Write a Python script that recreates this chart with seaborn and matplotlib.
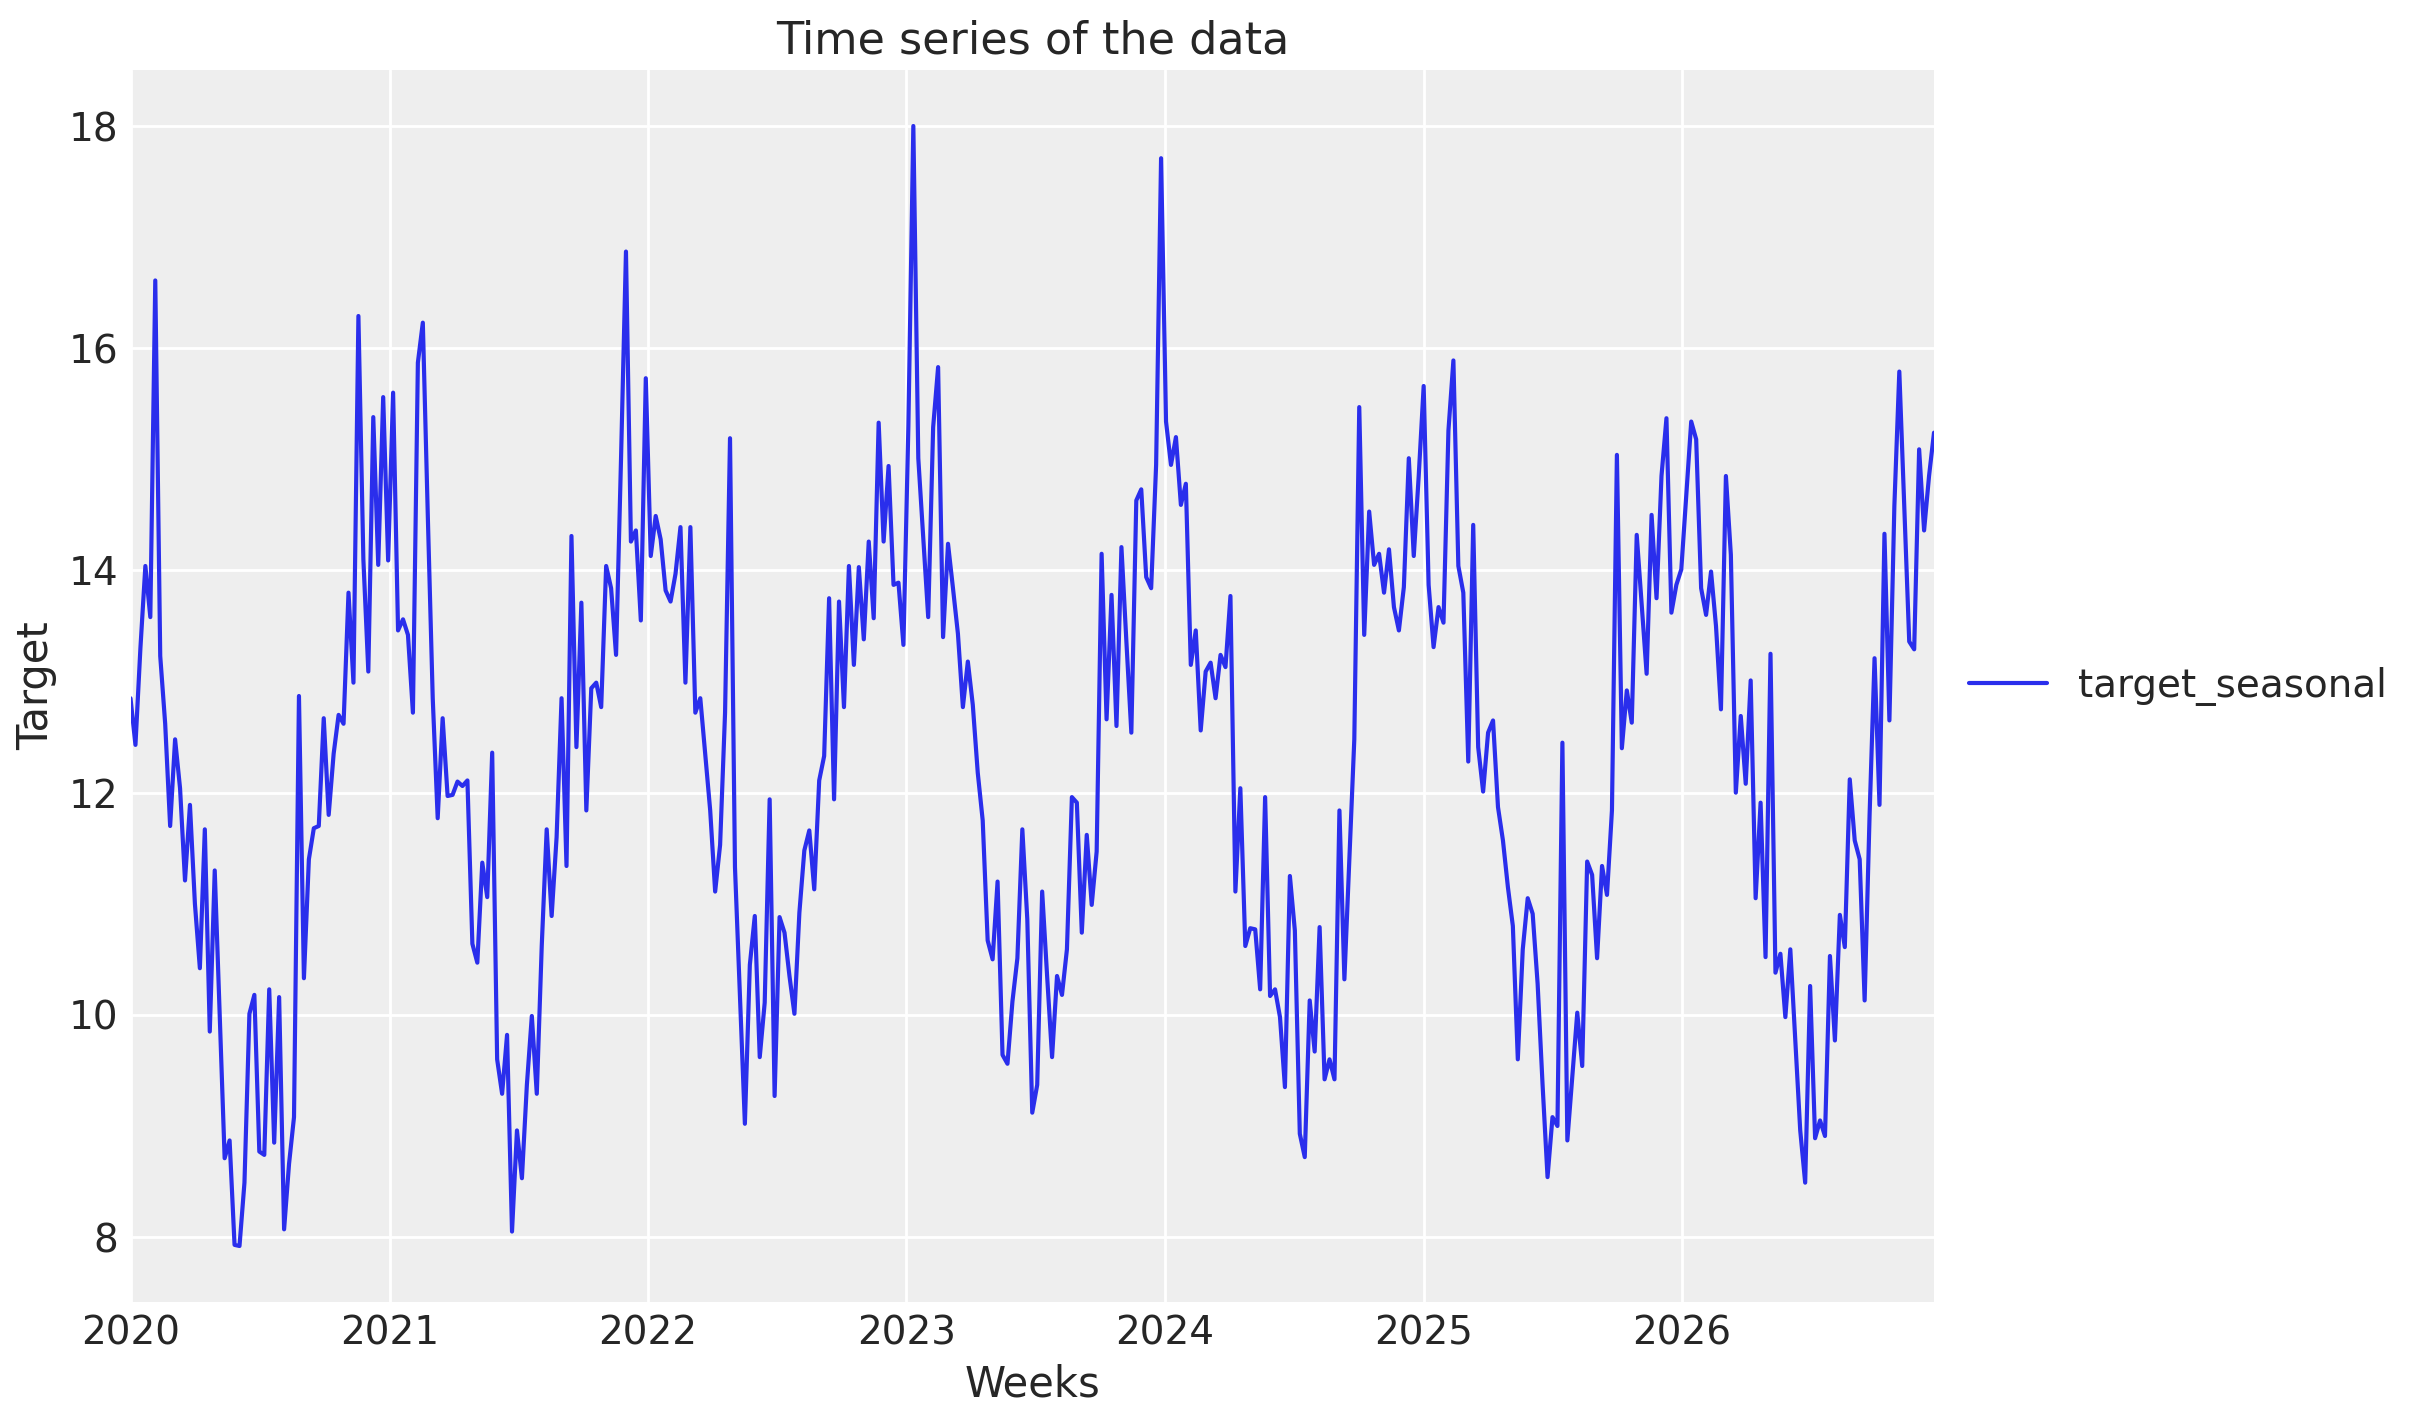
import numpy as np
import pandas as pd
import matplotlib
matplotlib.use("Agg")
import matplotlib.pyplot as plt
import matplotlib.dates as mdates
import seaborn as sns

# ---- data (weekly values) ----
y2020 = [12.85, 12.43, 13.3, 14.04, 13.58, 16.61, 13.23, 12.62, 11.70, 12.48, 12.04, 11.21, 11.89,
         11.0, 10.42, 11.67, 9.85, 11.30, 10.0, 8.71, 8.87, 7.93, 7.92, 8.49, 10.01, 10.18,
         8.77, 8.74, 10.23, 8.85, 10.16, 8.07, 8.66, 9.08, 12.87, 10.33, 11.40, 11.68, 11.70,
         12.67, 11.80, 12.35, 12.70, 12.62, 13.80, 12.99, 16.29, 14.1, 13.09, 15.38, 14.05, 15.56]
y2021 = [14.09, 15.60, 13.46, 13.56, 13.42, 12.72, 15.87, 16.23, 14.5, 12.85, 11.77, 12.67, 11.97,
         11.98, 12.10, 12.06, 12.11, 10.64, 10.47, 11.37, 11.06, 12.36, 9.60, 9.29, 9.82, 8.05,
         8.96, 8.53, 9.37, 9.99, 9.29, 10.62, 11.67, 10.89, 11.60, 12.85, 11.34, 14.31, 12.41,
         13.71, 11.84, 12.94, 12.99, 12.77, 14.04, 13.84, 13.24, 15.0, 16.87, 14.26, 14.36, 13.55]
y2022 = [15.73, 14.13, 14.49, 14.28, 13.82, 13.72, 13.97, 14.39, 12.99, 14.39, 12.72, 12.85, 12.35,
         11.84, 11.11, 11.53, 12.72, 15.19, 11.33, 10.18, 9.02, 10.45, 10.89, 9.62, 10.11, 11.94,
         9.27, 10.88, 10.74, 10.35, 10.01, 10.92, 11.48, 11.66, 11.13, 12.11, 12.33, 13.75, 11.94,
         13.72, 12.77, 14.04, 13.15, 14.03, 13.38, 14.26, 13.57, 15.33, 14.26, 14.94, 13.87, 13.89]
y2023 = [13.33, 15.3, 18.00, 15.01, 14.3, 13.58, 15.29, 15.83, 13.40, 14.24, 13.84, 13.43, 12.77,
         13.18, 12.79, 12.18, 11.75, 10.67, 10.50, 11.20, 9.64, 9.56, 10.12, 10.51, 11.67, 10.86,
         9.12, 9.37, 11.11, 10.35, 9.62, 10.35, 10.18, 10.59, 11.96, 11.91, 10.74, 11.62, 10.99,
         11.47, 14.15, 12.66, 13.78, 12.60, 14.21, 13.36, 12.54, 14.63, 14.73, 13.94, 13.84, 14.95]
y2024 = [17.71, 15.34, 14.95, 15.20, 14.59, 14.78, 13.15, 13.46, 12.56, 13.09, 13.17, 12.85, 13.24,
         13.13, 13.77, 11.11, 12.04, 10.62, 10.78, 10.77, 10.23, 11.96, 10.17, 10.23, 9.98, 9.35,
         11.25, 10.76, 8.93, 8.72, 10.13, 9.67, 10.79, 9.42, 9.60, 9.42, 11.84, 10.32, 11.4,
         12.48, 15.47, 13.42, 14.53, 14.05, 14.15, 13.80, 14.19, 13.67, 13.46, 13.85, 15.01, 14.13]
y2025 = [14.85, 15.66, 13.87, 13.31, 13.67, 13.53, 15.26, 15.89, 14.04, 13.80, 12.28, 14.41, 12.41,
         12.01, 12.54, 12.65, 11.87, 11.57, 11.15, 10.80, 9.60, 10.59, 11.05, 10.91, 10.28, 9.37,
         8.54, 9.08, 9.00, 12.45, 8.87, 9.44, 10.02, 9.54, 11.38, 11.26, 10.51, 11.34, 11.08,
         11.84, 15.04, 12.40, 12.92, 12.63, 14.32, 13.70, 13.07, 14.50, 13.75, 14.85, 15.37, 13.62]
y2026 = [13.87, 14.01, 14.68, 15.34, 15.18, 13.84, 13.60, 13.99, 13.50, 12.75, 14.85, 14.14, 12.00,
         12.69, 12.08, 13.01, 11.05, 11.91, 10.52, 13.25, 10.38, 10.55, 9.98, 10.59, 9.78, 8.96,
         8.49, 10.26, 8.89, 9.05, 8.91, 10.53, 9.77, 10.90, 10.61, 12.12, 11.57, 11.40, 10.13,
         11.8, 13.21, 11.89, 14.33, 12.65, 14.58, 15.79, 14.58, 13.36, 13.29, 15.09, 14.36, 14.85,
         15.24]

values = y2020 + y2021 + y2022 + y2023 + y2024 + y2025 + y2026
dates = pd.date_range("2020-01-01", periods=len(values), freq="7D")
series_name = "target_seasonal"
df = pd.DataFrame({"date": dates, series_name: values})

# ---- style (arviz-darkgrid like) ----
sns.set_style("darkgrid")
plt.rcParams.update({
    "font.family": ["DejaVu Sans"],
    "axes.facecolor": "#eeeeee",
    "figure.facecolor": "white",
    "axes.edgecolor": "white",
    "axes.linewidth": 0,
    "grid.color": "white",
    "grid.linewidth": 1.0,
    "text.color": "#262626",
    "axes.labelcolor": "#262626",
    "xtick.color": "#262626",
    "ytick.color": "#262626",
    "xtick.major.size": 0,
    "ytick.major.size": 0,
    "xtick.major.pad": 4.5,
    "ytick.major.pad": 4.5,
    "xtick.labelsize": 14,
    "ytick.labelsize": 14,
    "axes.labelsize": 15,
    "axes.titlesize": 16,
    "legend.fontsize": 14,
})

W, H, DPI = 2423, 1423, 200
fig = plt.figure(figsize=(W / DPI, H / DPI), dpi=DPI)
left, right, top, bottom = 130.5, 1934, 70, 1302
ax = fig.add_axes([left / W, (H - bottom) / H, (right - left) / W, (bottom - top) / H])

sns.lineplot(data=df, x="date", y=series_name, ax=ax, color="#2a2eec",
             linewidth=1.5, label=series_name)
ax.margins(x=0)
ax.xaxis.set_major_locator(mdates.YearLocator())
ax.xaxis.set_major_formatter(mdates.DateFormatter("%Y"))
ax.set_title("Time series of the data")
ax.set_xlabel("Weeks")
ax.set_ylabel("Target")
for s in ax.spines.values():
    s.set_visible(False)
ax.legend(loc="center left", bbox_to_anchor=(1.0, 0.5), frameon=False)

fig.savefig("out.png", dpi=DPI)
